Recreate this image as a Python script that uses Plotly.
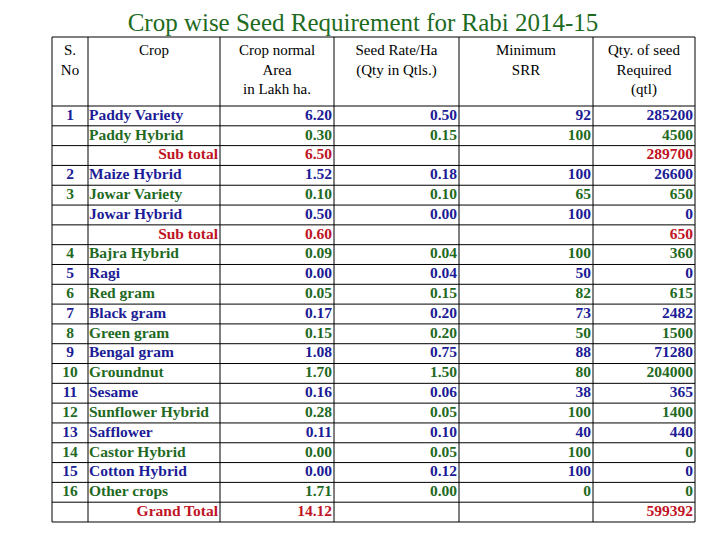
import plotly.graph_objects as go

title_text = "Crop wise Seed Requirement for Rabi 2014-15"

header_labels = ["S.<br>No", "Crop", "Crop normal<br>Area<br>in Lakh ha.",
                 "Seed Rate/Ha<br>(Qty in Qtls.)", "Minimum<br>SRR",
                 "Qty. of seed<br>Required<br>(qtl)"]

sno = ["1", "", "", "2", "3", "", "", "4", "5", "6", "7", "8", "9", "10",
       "11", "12", "13", "14", "15", "16", ""]
crops = ["Paddy Variety", "Paddy Hybrid", "Sub total", "Maize Hybrid",
         "Jowar Variety", "Jowar Hybrid", "Sub total", "Bajra Hybrid", "Ragi",
         "Red gram", "Black gram", "Green gram", "Bengal gram", "Groundnut",
         "Sesame", "Sunflower Hybrid", "Safflower", "Castor Hybrid",
         "Cotton Hybrid", "Other crops", "Grand Total"]
area = [6.20, 0.30, 6.50, 1.52, 0.10, 0.50, 0.60, 0.09, 0.00, 0.05, 0.17,
        0.15, 1.08, 1.70, 0.16, 0.28, 0.11, 0.00, 0.00, 1.71, 14.12]
seed_rate = [0.50, 0.15, None, 0.18, 0.10, 0.00, None, 0.04, 0.04, 0.15, 0.20,
             0.20, 0.75, 1.50, 0.06, 0.05, 0.10, 0.05, 0.12, 0.00, None]
srr = [92, 100, None, 100, 65, 100, None, 100, 50, 82, 73, 50, 88, 80, 38,
       100, 40, 100, 100, 0, None]
qty = [285200, 4500, 289700, 26600, 650, 0, 650, 360, 0, 615, 2482, 1500,
       71280, 204000, 365, 1400, 440, 0, 0, 0, 599392]
# row kind: b = blue row, g = green row, r = red total row
row_kind = ["b", "g", "r", "b", "g", "b", "r", "g", "b", "g", "b", "g", "b",
            "g", "b", "g", "b", "g", "b", "g", "r"]

BLUE = "#1c1c96"
GREEN = "#1f6a1f"
RED = "#c01425"
kind_color = {"b": BLUE, "g": GREEN, "r": RED}
row_colors = [kind_color[k] for k in row_kind]

# ---- layout geometry (pixel space of the 720x540 window) ----
W, H = 720, 540
PAGE_MARGIN = 8  # default body margin of the HTML page
col_edges = [52, 88, 220, 334, 459, 593, 695]
table_top, header_bot, table_bot = 37, 106, 522
n_rows = len(crops)
row_h = (table_bot - header_bot) / n_rows
row_mid = [header_bot + (i + 0.5) * row_h for i in range(n_rows)]

FONT = "Liberation Serif"
FS = 15.5

fig = go.Figure()


def add_text(xs, ys, texts, pos, colors, size=FS, weight="bold"):
    fig.add_trace(go.Scatter(
        x=xs, y=ys, text=texts, mode="text", textposition=pos,
        textfont=dict(family=FONT, size=size, color=colors, weight=weight),
        hoverinfo="skip", showlegend=False, cliponaxis=False,
    ))


def fmt2(v):
    return "" if v is None else f"{v:.2f}"


def fmt0(v):
    return "" if v is None else f"{v}"


# S. No column (centered)
add_text([(col_edges[0] + col_edges[1]) / 2] * n_rows, row_mid, sno,
         "middle center", row_colors)

# Crop column: names left, totals right
name_idx = [i for i, k in enumerate(row_kind) if k != "r"]
tot_idx = [i for i, k in enumerate(row_kind) if k == "r"]
add_text([col_edges[1] + 1] * len(name_idx), [row_mid[i] for i in name_idx],
         [crops[i] for i in name_idx], "middle right",
         [row_colors[i] for i in name_idx])
add_text([col_edges[2] - 2] * len(tot_idx), [row_mid[i] for i in tot_idx],
         [crops[i] for i in tot_idx], "middle left",
         [row_colors[i] for i in tot_idx])

# numeric columns, right aligned
for ci, col in enumerate([[fmt2(v) for v in area],
                          [fmt2(v) for v in seed_rate],
                          [fmt0(v) for v in srr],
                          [fmt0(v) for v in qty]]):
    right = col_edges[ci + 3] - 2
    add_text([right] * n_rows, row_mid, col, "middle left", row_colors)

# header labels
add_text([(col_edges[i] + col_edges[i + 1]) / 2 for i in range(6)],
         [table_top + 7] * 6, header_labels, "bottom center",
         ["black"] * 6, size=15, weight="normal")

# title
add_text([363], [24.5], [title_text], "middle center", ["#1e6b1e"],
         size=25, weight="normal")

# grid lines
line = dict(color="black", width=1)
for xe in col_edges:
    fig.add_shape(type="line", x0=xe, x1=xe, y0=table_top, y1=table_bot,
                  line=line, layer="above")
h_lines = [table_top, header_bot] + [header_bot + (i + 1) * row_h
                                     for i in range(n_rows)]
for ye in h_lines:
    fig.add_shape(type="line", x0=col_edges[0], x1=col_edges[-1], y0=ye,
                  y1=ye, line=line, layer="above")

fig.update_xaxes(range=[PAGE_MARGIN, W + PAGE_MARGIN], visible=False,
                 fixedrange=True)
fig.update_yaxes(range=[H + PAGE_MARGIN, PAGE_MARGIN], visible=False,
                 fixedrange=True)
fig.update_layout(
    width=W, height=H,
    margin=dict(l=0, r=0, t=0, b=0),
    paper_bgcolor="white", plot_bgcolor="white",
)

fig.write_html("out.html")
